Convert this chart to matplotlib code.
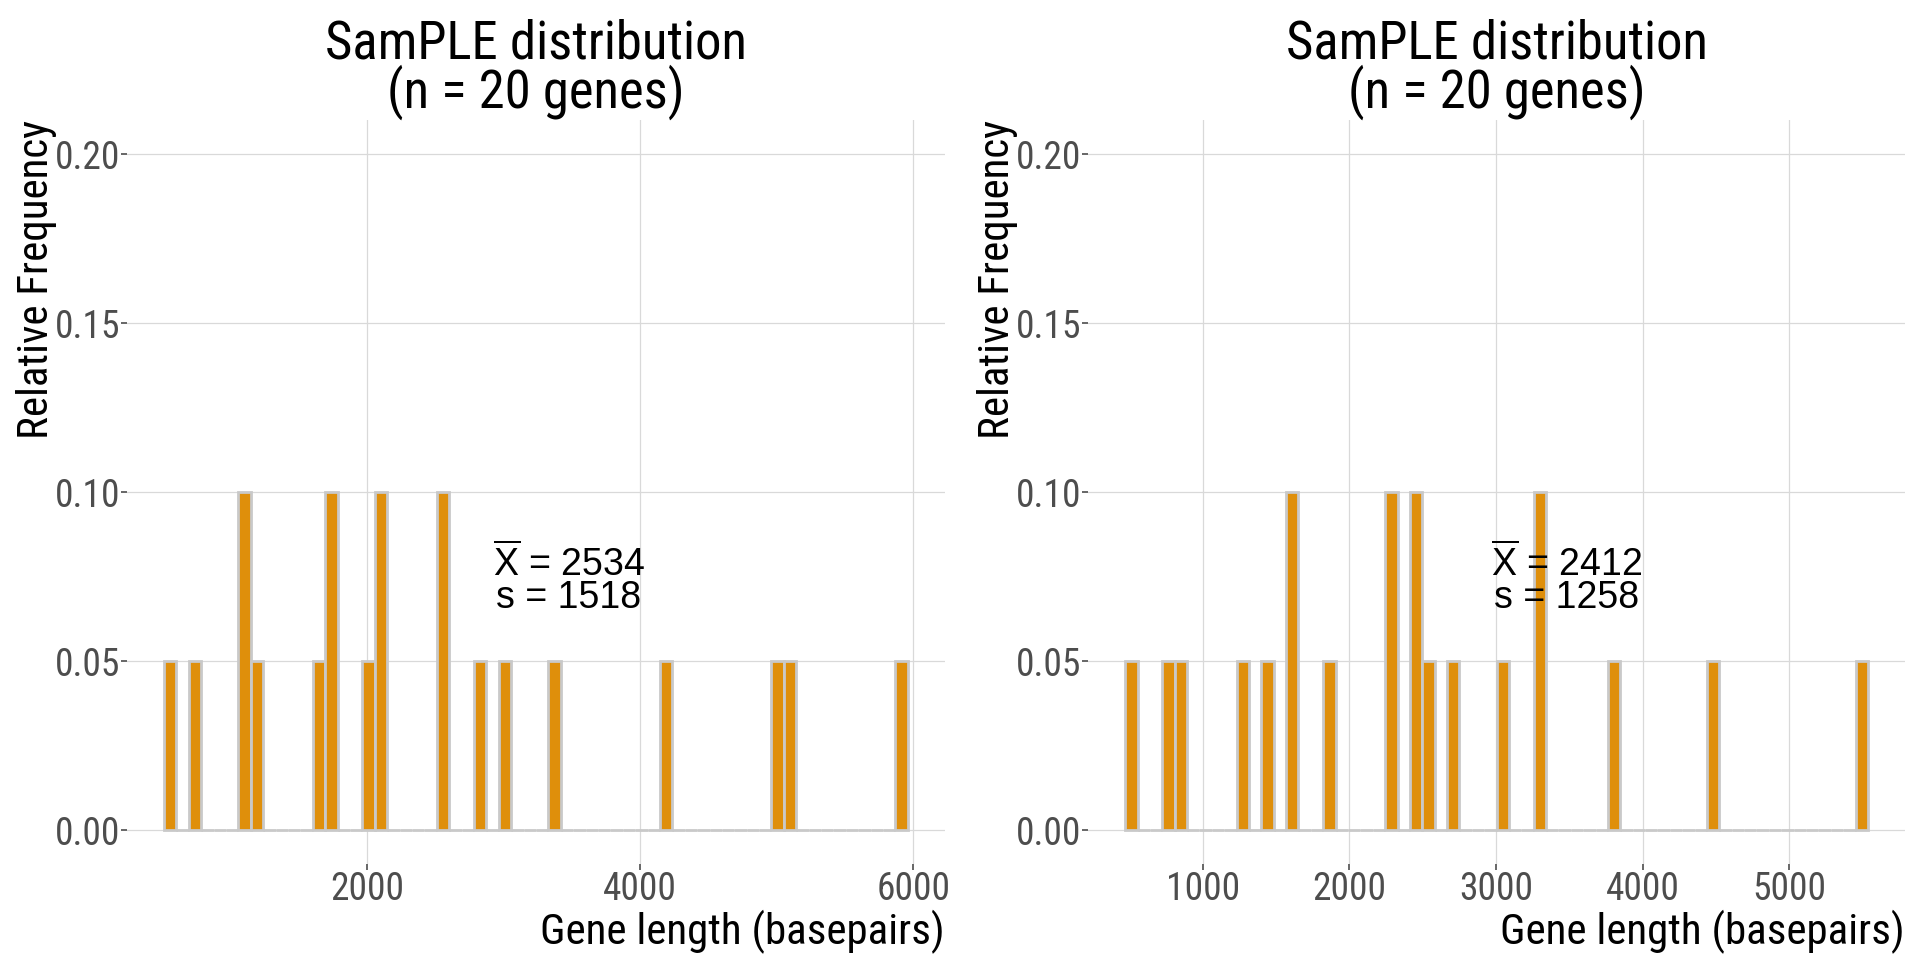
import numpy as np
import matplotlib

matplotlib.use("Agg")
import matplotlib.pyplot as plt
from matplotlib import font_manager

# gene lengths (bin centres)
left_lengths = [562, 743, 1106, 1106, 1197, 1651, 1742, 1742, 2014, 2104,
                2104, 2558, 2558, 2830, 3012, 3375, 4191, 5008, 5099, 5915]
right_lengths = [513, 766, 851, 1273, 1442, 1611, 1611, 1864, 2286, 2286,
                 2455, 2455, 2539, 2708, 3046, 3299, 3299, 3805, 4481, 5495]
left_stats = ("2534", "1518")
right_stats = ("2412", "1258")
left_xticks = [2000, 4000, 6000]
right_xticks = [1000, 2000, 3000, 4000, 5000]
yticks = [0.00, 0.05, 0.10, 0.15, 0.20]
n_bins = 60

FILL = "#DF8F0B"
EDGE = "#C9C9C9"
GRID = "#D9D9D9"
TICK = "#4D4D4D"

names = {f.name for f in font_manager.fontManager.ttflist}
FONT = "Roboto Condensed" if "Roboto Condensed" in names else "Roboto"
plt.rcParams["font.family"] = [FONT, "DejaVu Sans"]
plt.rcParams["mathtext.fontset"] = "custom"
plt.rcParams["mathtext.rm"] = "Liberation Sans"
plt.rcParams["mathtext.it"] = "Liberation Sans:italic"


def histogram(ax, values, xticks, stats):
    values = np.asarray(values, dtype=float)
    lo, hi = values.min(), values.max()
    w = (hi - lo) / (n_bins - 1)
    edges = lo - w / 2 + w * np.arange(n_bins + 1)
    counts, _ = np.histogram(values, bins=edges)
    rel = counts / len(values)

    ax.bar(edges[:-1], rel, width=w, align="edge", color=FILL,
           edgecolor=EDGE, linewidth=2.0, zorder=3)

    span = edges[-1] - edges[0]
    ax.set_xlim(edges[0] - 0.05 * span, edges[-1] + 0.05 * span)
    ax.set_ylim(-0.01, 0.21)
    ax.set_xticks(xticks)
    ax.set_yticks(yticks)
    ax.set_yticklabels([f"{t:.2f}" for t in yticks])

    ax.grid(True, color=GRID, linewidth=0.9, zorder=0)
    ax.set_axisbelow(True)
    for spine in ax.spines.values():
        spine.set_visible(False)
    ax.tick_params(axis="both", colors=TICK, labelsize=27, length=4,
                   width=1.2, pad=1)

    ax.set_title("SamPLE distribution\n(n = 20 genes)", fontsize=38,
                 pad=2, linespacing=0.9, color="black")
    ax.set_ylabel("Relative Frequency", fontsize=31, loc="top")
    ax.yaxis.set_label_coords(-0.086, 1.0)
    ax.set_xlabel("Gene length (basepairs)", fontsize=31, loc="right")
    ax.xaxis.set_label_coords(1.0, -0.062)

    mean, sd = stats
    ax.text(3480, 0.074, r"$\overline{\mathrm{X}}$ = " + mean + "\ns = " + sd,
            ha="center", va="center", fontsize=27, linespacing=0.85,
            family="Liberation Sans", zorder=5)


fig = plt.figure(figsize=(19.2, 9.6), dpi=100, facecolor="white")
ax1 = fig.add_axes([0.0661, 0.10, 0.4261, 0.7745])
ax2 = fig.add_axes([0.5667, 0.10, 0.4255, 0.7745])
histogram(ax1, left_lengths, left_xticks, left_stats)
histogram(ax2, right_lengths, right_xticks, right_stats)

fig.savefig("out.png", dpi=100, facecolor="white")
